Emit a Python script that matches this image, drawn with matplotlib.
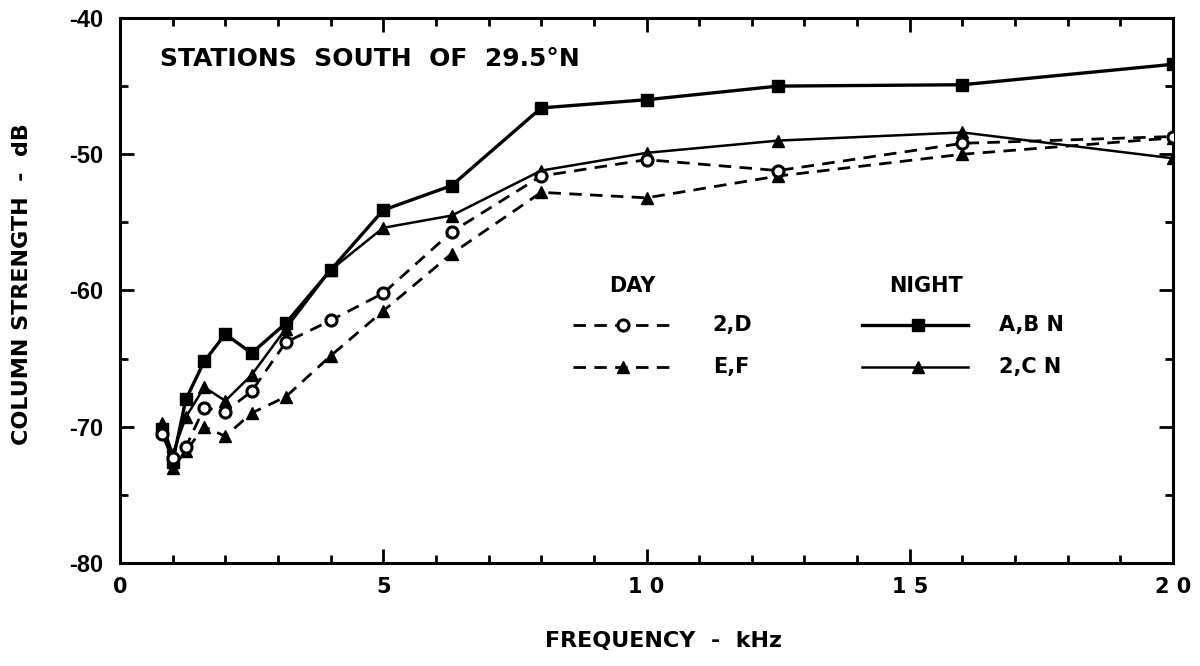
import matplotlib.pyplot as plt
from matplotlib.ticker import MultipleLocator

plt.rcParams['font.family'] = ['DejaVu Sans']
plt.rcParams['font.weight'] = 'bold'
plt.rcParams['axes.unicode_minus'] = False

# third-octave band centre frequencies, kHz
freq = [0.8, 1.0, 1.25, 1.6, 2.0, 2.5, 3.15, 4.0, 5.0, 6.3, 8.0, 10.0, 12.5, 16.0, 20.0]

# column strength, dB
day_2d   = [-70.5, -72.3, -71.5, -68.6, -68.9, -67.4, -63.8, -62.2, -60.2, -55.7, -51.6, -50.4, -51.2, -49.2, -48.7]
day_ef   = [-70.3, -73.0, -71.8, -70.0, -70.7, -69.0, -67.8, -64.8, -61.5, -57.3, -52.8, -53.2, -51.6, -50.0, -48.8]
night_ab = [-70.2, -72.6, -68.0, -65.2, -63.2, -64.6, -62.4, -58.5, -54.1, -52.3, -46.6, -46.0, -45.0, -44.9, -43.4]
night_2c = [-69.7, -72.0, -69.3, -67.1, -68.1, -66.2, -62.8, -58.5, -55.4, -54.5, -51.2, -49.9, -49.0, -48.4, -50.3]

xticks = [0, 5, 10, 15, 20]
xtick_labels = ['0', '5', '1 0', '1 5', '2 0']
yticks = [-80, -70, -60, -50, -40]

fig = plt.figure(figsize=(12, 6.66), dpi=100)
ax = fig.add_axes([0.1, 0.1547, 0.8775, 0.8183])

dash = (0, (4.5, 3))
ax.plot(freq, night_ab, '-', color='black', lw=2.4, marker='s', ms=9, zorder=4)
ax.plot(freq, night_2c, '-', color='black', lw=1.8, marker='^', ms=9, zorder=4)
ax.plot(freq, day_2d, color='black', lw=2.0, ls=dash, marker='o', ms=8,
        mfc='white', mew=2.2, zorder=5)
ax.plot(freq, day_ef, color='black', lw=2.0, ls=dash, marker='^', ms=8, zorder=4)

ax.set_xlim(0, 20)
ax.set_ylim(-80, -40)
ax.set_xticks(xticks)
ax.set_xticklabels(xtick_labels, fontsize=15)
ax.set_yticks(yticks)
ax.set_yticklabels([str(v) for v in yticks], family='Liberation Sans', fontsize=17)
ax.xaxis.set_minor_locator(MultipleLocator(1))
ax.yaxis.set_minor_locator(MultipleLocator(5))
ax.tick_params(which='both', direction='in', top=True, right=True, width=2)
ax.tick_params(axis='x', which='major', pad=10)
ax.tick_params(axis='y', which='major', pad=12)
ax.tick_params(which='major', length=10)
ax.tick_params(which='minor', length=6)
for s in ax.spines.values():
    s.set_linewidth(2.2)

ax.set_xlabel('FREQUENCY  -  kHz', fontsize=16, fontweight='bold')
ax.set_ylabel('COLUMN STRENGTH  -  dB', fontsize=16, fontweight='bold')
ax.xaxis.set_label_coords(0.516, -0.125)
ax.yaxis.set_label_coords(-0.084, 0.512)

ax.text(0.038, 0.925, 'STATIONS  SOUTH  OF  29.5°N', transform=ax.transAxes,
        fontsize=18, fontweight='bold', va='center')

# legend built by hand
ax.text(0.487, 0.508, 'DAY', transform=ax.transAxes, fontsize=15,
        fontweight='bold', ha='center', va='center')
ax.text(0.765, 0.508, 'NIGHT', transform=ax.transAxes, fontsize=15,
        fontweight='bold', ha='center', va='center')

ax.plot([0.43, 0.522], [0.437, 0.437], transform=ax.transAxes, color='black',
        lw=2.0, ls=dash)
ax.plot([0.478], [0.437], transform=ax.transAxes, color='black', marker='o',
        ms=8, mfc='white', mew=2.2)
ax.text(0.563, 0.437, '2,D', transform=ax.transAxes, fontsize=15,
        fontweight='bold', va='center')

ax.plot([0.43, 0.522], [0.36, 0.36], transform=ax.transAxes, color='black',
        lw=2.0, ls=dash)
ax.plot([0.478], [0.36], transform=ax.transAxes, color='black', marker='^', ms=8)
ax.text(0.563, 0.36, 'E,F', transform=ax.transAxes, fontsize=15,
        fontweight='bold', va='center')

ax.plot([0.705, 0.805], [0.437, 0.437], transform=ax.transAxes, color='black', lw=2.4)
ax.plot([0.758], [0.437], transform=ax.transAxes, color='black', marker='s', ms=9)
ax.text(0.835, 0.437, 'A,B N', transform=ax.transAxes, fontsize=15,
        fontweight='bold', va='center')

ax.plot([0.705, 0.805], [0.36, 0.36], transform=ax.transAxes, color='black', lw=1.8)
ax.plot([0.758], [0.36], transform=ax.transAxes, color='black', marker='^', ms=9)
ax.text(0.835, 0.36, '2,C N', transform=ax.transAxes, fontsize=15,
        fontweight='bold', va='center')

fig.savefig('out.png', dpi=100)
